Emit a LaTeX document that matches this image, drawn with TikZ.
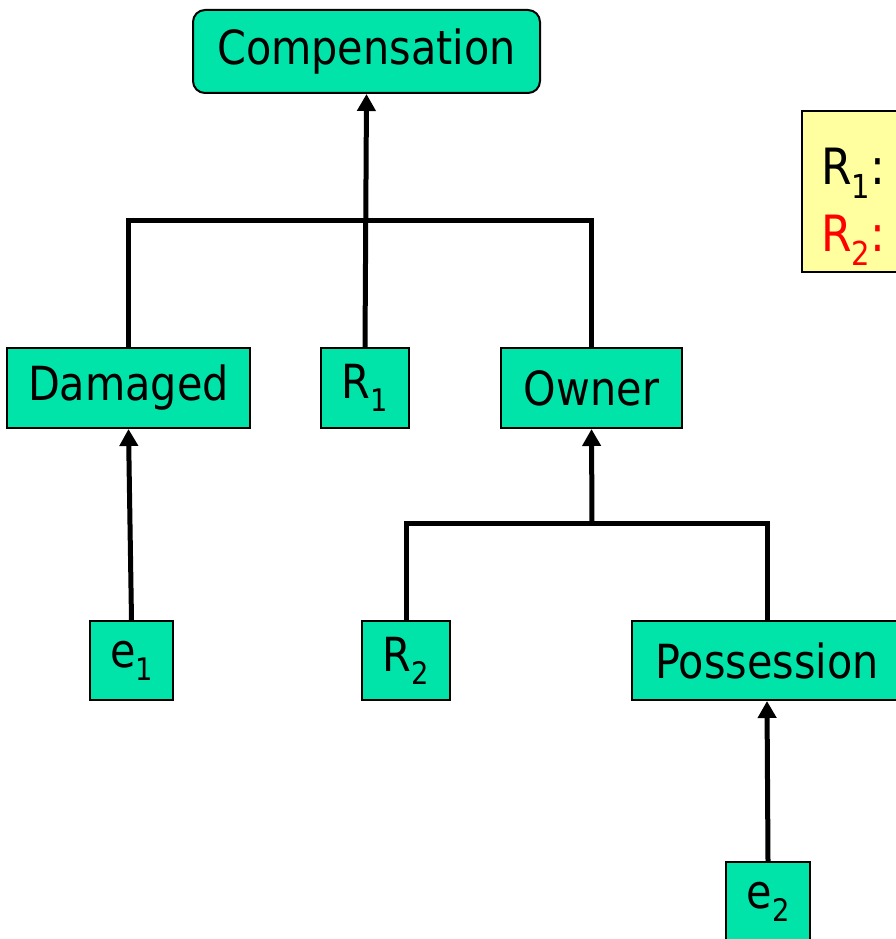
\documentclass[tikz,border=0pt]{standalone}
\usepackage{fontspec}
\setmainfont{DejaVu Sans}[FakeStretch=0.88]
\usetikzlibrary{arrows.meta}
\definecolor{boxgreen}{RGB}{0,228,170}
\definecolor{notefill}{RGB}{255,255,160}
\newcommand\subidx[1]{\raisebox{-0.28em}{\scalebox{0.66}{#1}}}
\tikzset{
  tnode/.style={draw=black, line width=2pt, fill=boxgreen, inner sep=0pt,
    font=\fontsize{47}{54}\selectfont},
  link/.style={line width=5pt, line cap=butt},
  arr/.style={link, -{Triangle[width=18pt,length=17pt]}},
}
\begin{document}
\begin{tikzpicture}[x=1pt,y=-1pt]
\useasboundingbox (0,0) rectangle (895,939);

% top node
\node[tnode, rounded corners=12pt, minimum width=347pt, minimum height=83pt]
  (comp) at (366.5,51.5) {Compensation};

% note box with the rule labels
\node[draw=black, line width=2pt, fill=notefill, anchor=north west,
  minimum width=130pt, minimum height=161pt, inner sep=0pt] (note) at (801,110) {};
\node[anchor=base west, inner sep=0pt, font=\fontsize{50}{58}\selectfont]
  (r1txt) at (821,184) {R\subidx{1}:};
\node[anchor=base west, inner sep=0pt, font=\fontsize{50}{58}\selectfont, text=red]
  (r2txt) at (821,251) {R\subidx{2}:};

% second row
\node[tnode, minimum width=243pt, minimum height=80pt] (dam) at (128.5,388) {Damaged};
\node[tnode, minimum width=88pt, minimum height=80pt] (r1) at (365,388) {R\subidx{1}};
\node[tnode, minimum width=181pt, minimum height=80pt] (own) at (591.5,388) {Owner};

% third row
\node[tnode, minimum width=83pt, minimum height=79pt] (e1) at (131.5,660.5) {e\subidx{1}};
\node[tnode, minimum width=88pt, minimum height=79pt] (r2) at (406,660.5) {R\subidx{2}};
\node[tnode, minimum width=270pt, minimum height=79pt] (poss) at (767,660.5) {Possession};

% bottom node
\node[tnode, minimum width=84pt, minimum height=80pt] (e2) at (768,902) {e\subidx{2}};

% junction points of the bars
\coordinate (j1) at (366,220);
\coordinate (j2) at (592,523);

% connectors
\draw[link] (dam.north) |- (j1) -| (own.north);
\draw[arr] (r1.north) -- (comp.south);
\draw[arr] (e1.north) -- (dam.south);
\draw[link] (r2.north) |- (j2) -| (poss.north);
\draw[arr] (j2) -- (own.south);
\draw[arr] (e2.north) -- (poss.south);
\end{tikzpicture}
\end{document}
